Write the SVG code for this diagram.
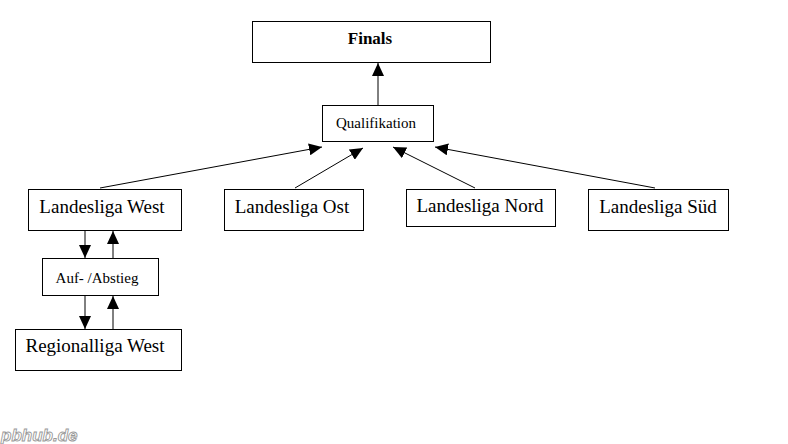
<svg xmlns="http://www.w3.org/2000/svg" width="788" height="444" viewBox="0 0 788 444">
<style>
.box{fill:#fff;stroke:#000;stroke-width:1}
.t{font-family:"Liberation Serif","Times New Roman",serif;fill:#000;text-anchor:middle}
.big{font-size:19px}
.small{font-size:15px}
.bold{font-weight:bold;font-size:17px}
.c{stroke:#000;stroke-width:1;fill:none;marker-end:url(#ah)}
</style>
<defs>
<marker id="ah" viewBox="0 0 13 12" refX="13" refY="6" markerWidth="13" markerHeight="12" markerUnits="userSpaceOnUse" orient="auto">
<path d="M0,0 L13,6 L0,12 Z" fill="#000"/>
</marker>
</defs>
<rect width="788" height="444" fill="#fff"/>
<g id="connectors">
<line class="c" x1="378" y1="105" x2="378" y2="63"/>
<line class="c" x1="100" y1="188" x2="322" y2="147"/>
<line class="c" x1="295" y1="188" x2="363" y2="148"/>
<line class="c" x1="475" y1="188" x2="393" y2="147"/>
<line class="c" x1="655" y1="188" x2="435" y2="147"/>
<line class="c" x1="85" y1="231" x2="85" y2="258"/>
<line class="c" x1="113" y1="258" x2="113" y2="231"/>
<line class="c" x1="85" y1="296" x2="85" y2="329"/>
<line class="c" x1="113" y1="329" x2="113" y2="296"/>
</g>
<g id="finals">
<rect class="box" x="252.5" y="21.5" width="238" height="41"/>
<text class="t bold" x="370" y="44">Finals</text>
</g>
<g id="qualifikation">
<rect class="box" x="322.5" y="105.5" width="111" height="36"/>
<text class="t small" x="376" y="128">Qualifikation</text>
</g>
<g id="west">
<rect class="box" x="28.5" y="189.5" width="153" height="41"/>
<text class="t big" x="102" y="213">Landesliga West</text>
</g>
<g id="ost">
<rect class="box" x="224.5" y="189.5" width="139" height="41"/>
<text class="t big" x="292" y="213">Landesliga Ost</text>
</g>
<g id="nord">
<rect class="box" x="406.5" y="189.5" width="149" height="37"/>
<text class="t big" x="480" y="212">Landesliga Nord</text>
</g>
<g id="sued">
<rect class="box" x="588.5" y="189.5" width="140" height="41"/>
<text class="t big" x="658" y="213">Landesliga Süd</text>
</g>
<g id="aufabstieg">
<rect class="box" x="42.5" y="258.5" width="116" height="37"/>
<text class="t small" x="97" y="283">Auf- /Abstieg</text>
</g>
<g id="regionalliga">
<rect class="box" x="15.5" y="329.5" width="166" height="41"/>
<text class="t big" x="95" y="352">Regionalliga West</text>
</g>
<text x="1" y="441" font-family="Liberation Sans, Arial, sans-serif" font-size="17" font-weight="bold" font-style="italic" fill="#fff" stroke="#999" stroke-width="0.9">pbhub.de</text>
</svg>
